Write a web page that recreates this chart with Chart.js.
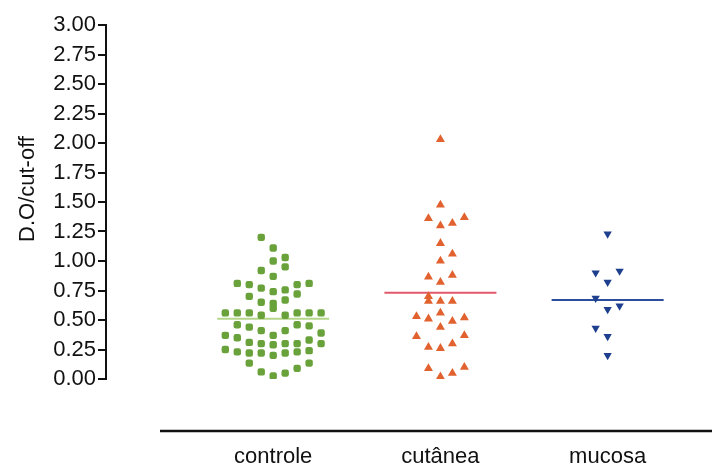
<!DOCTYPE html>
<html>
<head>
<meta charset="utf-8">
<script src="https://cdn.jsdelivr.net/npm/chart.js@4/dist/chart.umd.min.js"></script>
<style>
    body { margin: 0; background: #fff; }
    #wrap { width: 712px; height: 464px; }
</style>
</head>
<body>
<div id="wrap"><canvas id="chart"></canvas></div>
<script>
// Groups
const categories = ['controle', 'cutânea', 'mucosa'];
const yTitle = 'D.O/cut-off';

// Values, with the column each dot sits in (0 = centre)
const controleValues = [1.20, 1.11, 1.00, 1.03, 0.95, 0.92, 0.87, 0.81, 0.80, 0.80, 0.81,
    0.77, 0.74, 0.755, 0.70, 0.72, 0.67, 0.65, 0.64, 0.60, 0.54, 0.54,
    0.56, 0.56, 0.56, 0.56, 0.56, 0.56, 0.46, 0.44, 0.46, 0.45,
    0.41, 0.37, 0.41, 0.37, 0.35, 0.31, 0.30, 0.29, 0.30, 0.30, 0.33, 0.24, 0.39, 0.30,
    0.25, 0.23, 0.22, 0.22, 0.20, 0.22, 0.23, 0.135, 0.135, 0.09, 0.06, 0.05, 0.025];
const controleCols = [-1, 0, 0, 1, 1, -1, 0, -3, -2, 2, 3,
    -1, 0, 1, -2, 2, 1, -1, 0, 0, -1, 1,
    -4, -3, -2, 2, 3, 4, -3, -2, 2, 3,
    -1, 0, 1, -4, -3, -2, -1, 0, 1, 2, 3, 3, 4, 4,
    -4, -3, -2, -1, 0, 1, 2, -2, 3, 2, -1, 1, 0];

const cutaneaValues = [2.03, 1.475, 1.36, 1.37, 1.30, 1.32, 1.15, 1.06, 1.00, 0.865, 0.88, 0.82,
    0.70, 0.66, 0.66, 0.66, 0.53, 0.51, 0.56, 0.44, 0.49, 0.52,
    0.36, 0.37, 0.27, 0.26, 0.30, 0.09, 0.02, 0.05, 0.10];
const cutaneaCols = [0, 0, -1, 2, 0, 1, 0, 1, 0, -1, 1, 0,
    -1, -1, 0, 1, -2, -1, 0, 0, 1, 2,
    -2, 2, -1, 0, 1, -1, 0, 1, 2];

const mucosaValues = [1.23, 0.90, 0.915, 0.82, 0.685, 0.59, 0.62, 0.43, 0.36, 0.20];
const mucosaCols = [0, -1, 1, 0, -1, 0, 1, -1, 0, 0];

// Group means (horizontal bars)
const meanValues = [0.51, 0.73, 0.67];

const COL = 0.0716;      // spacing between dot columns, in x units
const HALF_BAR = 0.335;  // half length of the mean bars

Chart.defaults.font.family = "'Liberation Sans', Arial, sans-serif";
Chart.defaults.color = '#111';

function toPoints(values, cols, center) {
    return values.map((v, i) => ({ x: center + cols[i] * COL, y: v }));
}

function meanBar(i) {
    const c = i + 1;
    return [{ x: c - HALF_BAR, y: meanValues[i] }, { x: c + HALF_BAR, y: meanValues[i] }];
}

// Y title and the detached x baseline
const axisDecor = {
    id: 'axisDecor',
    afterDraw(chart) {
        const { ctx, chartArea } = chart;
        ctx.save();
        ctx.strokeStyle = '#111';
        ctx.lineWidth = 2.5;
        ctx.beginPath();
        ctx.moveTo(chartArea.left + 54, chartArea.bottom + 52);
        ctx.lineTo(chart.width, chartArea.bottom + 52);
        ctx.stroke();

        ctx.translate(28, (chartArea.top + chartArea.bottom) / 2 - 13);
        ctx.rotate(-Math.PI / 2);
        ctx.font = "22px 'Liberation Sans', Arial, sans-serif";
        ctx.fillStyle = '#111';
        ctx.textAlign = 'center';
        ctx.textBaseline = 'middle';
        ctx.fillText(yTitle, 0, 0);
        ctx.restore();
    }
};

const ctx = document.getElementById('chart').getContext('2d');

new Chart(ctx, {
    type: 'scatter',
    data: {
        datasets: [
            {
                label: categories[0],
                data: toPoints(controleValues, controleCols, 1),
                pointStyle: 'rectRounded',
                pointRadius: 4.3,
                backgroundColor: '#69a23a',
                borderWidth: 0
            },
            {
                label: categories[1],
                data: toPoints(cutaneaValues, cutaneaCols, 2),
                pointStyle: 'triangle',
                pointRadius: 5.2,
                backgroundColor: '#e2622f',
                borderWidth: 0
            },
            {
                label: categories[2],
                data: toPoints(mucosaValues, mucosaCols, 3),
                pointStyle: 'triangle',
                rotation: 180,
                pointRadius: 4.8,
                backgroundColor: '#1d3f8e',
                borderWidth: 0
            },
            {
                type: 'line',
                data: meanBar(0),
                borderColor: '#b3d68a',
                borderWidth: 2,
                pointRadius: 0
            },
            {
                type: 'line',
                data: meanBar(1),
                borderColor: '#e0586a',
                borderWidth: 2,
                pointRadius: 0
            },
            {
                type: 'line',
                data: meanBar(2),
                borderColor: '#2c4d9c',
                borderWidth: 2,
                pointRadius: 0
            }
        ]
    },
    options: {
        responsive: true,
        maintainAspectRatio: false,
        animation: false,
        layout: { padding: { top: 25, right: 0, bottom: 0, left: 0 } },
        plugins: {
            legend: { display: false },
            tooltip: { enabled: false }
        },
        scales: {
            x: {
                type: 'linear',
                min: 0,
                max: 3.59,
                afterBuildTicks: (scale) => {
                    scale.ticks = categories.map((c, i) => ({ value: i + 1 }));
                },
                afterFit: (scale) => { scale.height = 85; },
                ticks: {
                    callback: (v) => categories[Math.round(v) - 1],
                    font: { size: 22 },
                    color: '#111',
                    padding: 65,
                    maxRotation: 0
                },
                grid: { display: false, drawTicks: false },
                border: { display: false }
            },
            y: {
                min: 0,
                max: 3,
                afterFit: (scale) => { scale.width = 106; },
                ticks: {
                    stepSize: 0.25,
                    callback: (v) => v.toFixed(2),
                    font: { size: 22 },
                    color: '#111',
                    padding: 2
                },
                grid: {
                    drawOnChartArea: false,
                    tickLength: 8,
                    color: '#111',
                    lineWidth: 2
                },
                border: { color: '#111', width: 2 }
            }
        }
    },
    plugins: [axisDecor]
});
</script>
</body>
</html>
